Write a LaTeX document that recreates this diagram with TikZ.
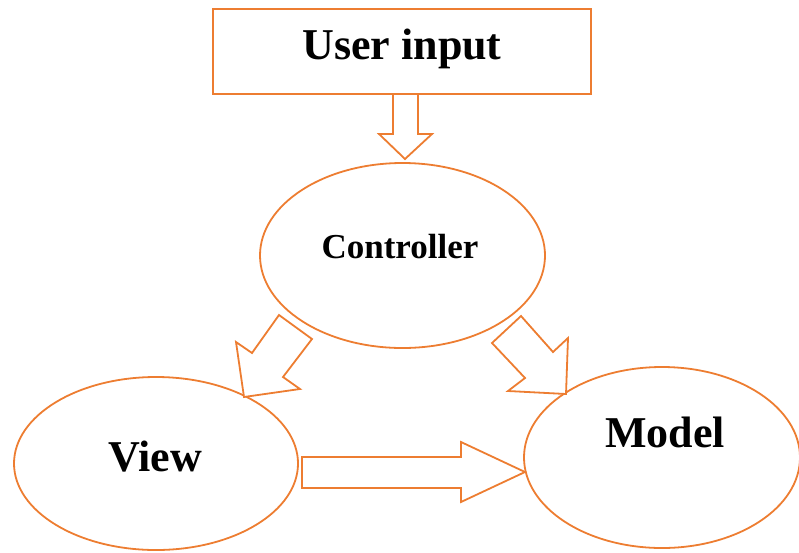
\documentclass[tikz,border=0pt]{standalone}
\usepackage{fontspec}
\setmainfont{Liberation Serif}
\usetikzlibrary{shapes.geometric}
\definecolor{accent}{HTML}{ED7D31}
\tikzset{
  outline/.style={draw=accent, line width=1.8pt},
  bubble/.style={outline, ellipse, inner sep=0pt},
  blockarrow/.style={outline, fill=white, line join=miter},
  label/.style={font=\bfseries, text=black, inner sep=0pt, anchor=center}
}
\begin{document}
\begin{tikzpicture}[x=1pt, y=-1pt]
  \useasboundingbox (0,0) rectangle (799,552);

  % boxes and bubbles
  \node[outline, minimum width=378pt, minimum height=85pt, inner sep=0pt] (input) at (402,51.5) {};
  \node[bubble, minimum width=285pt, minimum height=185pt] (controller) at (402.5,255.5) {};
  \node[bubble, minimum width=284pt, minimum height=173pt] (view) at (156,463.5) {};
  \node[bubble, minimum width=276pt, minimum height=181pt] (model) at (662,457.5) {};

  % captions
  \node[label, font=\fontsize{44}{44}\selectfont\bfseries] at (402,49) {User input};
  \node[label, font=\fontsize{35}{35}\selectfont\bfseries] at (400,247) {Controller};
  \node[label, font=\fontsize{44}{44}\selectfont\bfseries] at (155,457) {View};
  \node[label, font=\fontsize{44}{44}\selectfont\bfseries] at (665,432) {Model};

  % block arrows
  \draw[blockarrow] (393,94) -- (418,94) -- (418,134) -- (432,134) -- (405,159)
    -- (379,134) -- (393,134) -- cycle;
  \draw[blockarrow] (279,315) -- (312,339) -- (283,377) -- (300,389) -- (244,397)
    -- (236,342) -- (252,353) -- cycle;
  \draw[blockarrow] (521,316) -- (492,343) -- (525,378) -- (508,391) -- (566,394)
    -- (568,338) -- (553,352) -- cycle;
  \draw[blockarrow] (302,457) -- (461,457) -- (461,442) -- (525,472) -- (461,502)
    -- (461,488) -- (302,488) -- cycle;
\end{tikzpicture}
\end{document}
